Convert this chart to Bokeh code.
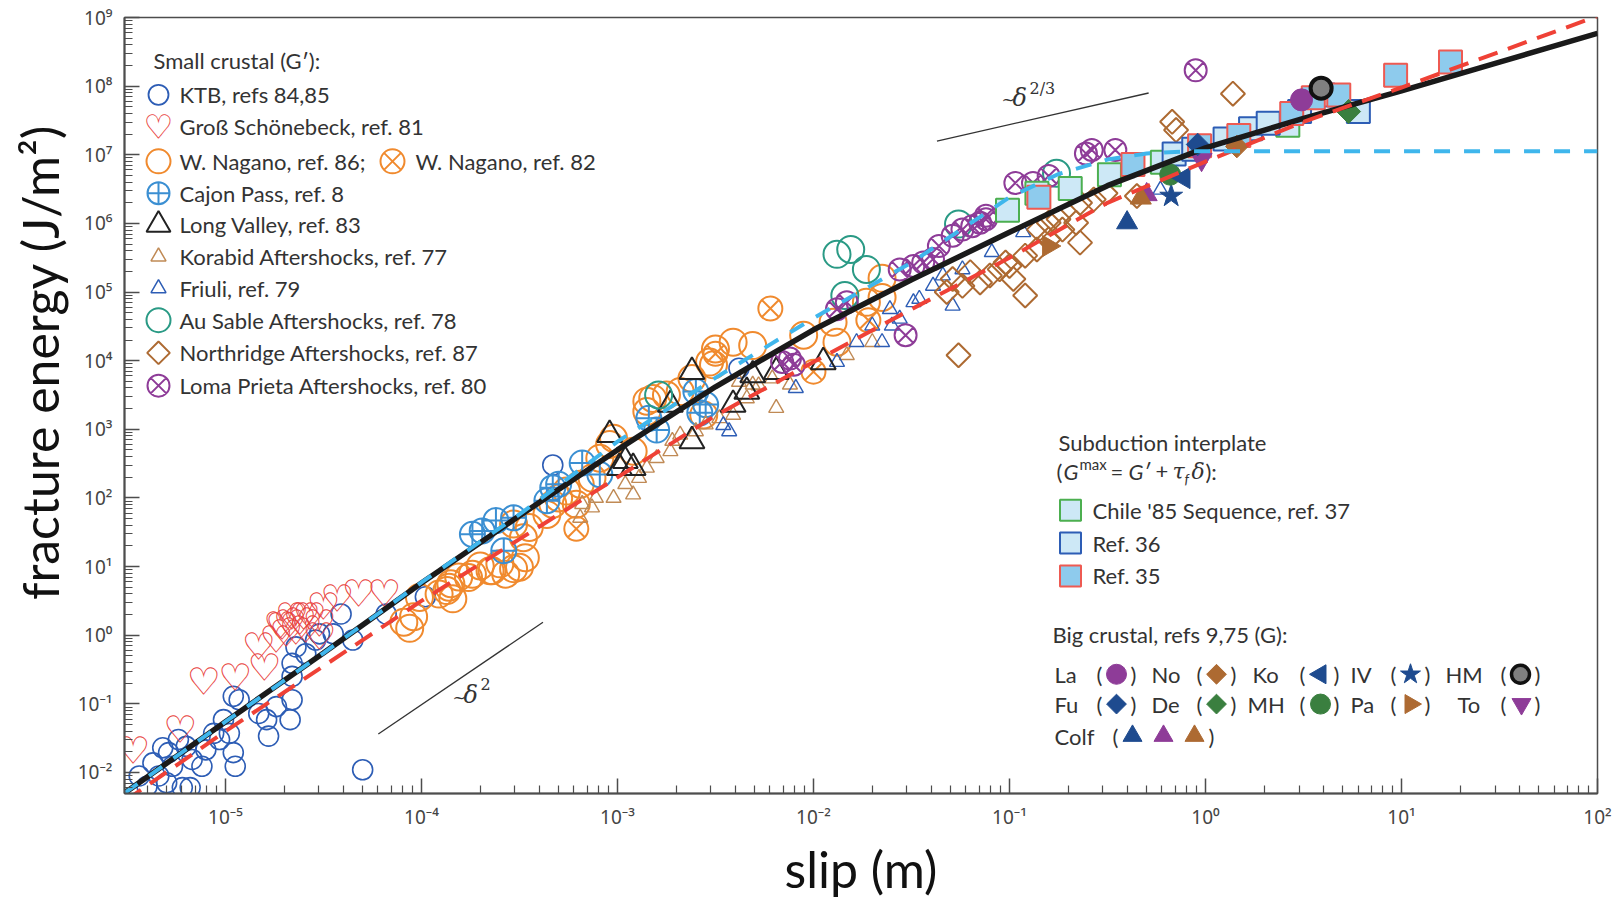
import numpy as np
from bokeh.plotting import figure
from bokeh.models import Range1d, FixedTicker, CustomJSTickFormatter, Title
from bokeh.core.properties import value
from bokeh.embed import file_html
from bokeh.resources import INLINE

# ---------------- data: log10(slip [m]) and log10(G [J/m^2]) ----------------
ktb_lx = [-5.32,-5.29,-5.24,-5.20,-5.27,-5.34,-5.30,-5.22,-5.18,-5.17,-5.12,-5.10,-5.06,-5.03,-4.98,-4.96,-4.95,-5.01,-4.96,-4.93,-4.83,-4.79,-4.78,-4.74,-4.67,-4.66,-4.66,-4.66,-4.64,-4.59,-4.54,-4.52,-4.45,-4.35,-4.41,-4.18,-3.98,-4.30,-5.37,-5.44,-5.40,-3.33,-2.38]
ktb_ly = [-1.64,-1.71,-1.52,-1.62,-1.91,-2.05,-2.15,-2.22,-2.22,-1.81,-1.91,-1.67,-1.43,-1.52,-1.43,-1.71,-1.91,-1.23,-0.89,-0.94,-1.14,-1.23,-1.47,-1.04,-1.23,-0.94,-0.60,-0.41,-0.17,-0.27,-0.07,0.02,0.02,-0.07,0.31,0.31,0.56,-1.96,-1.86,-2.05,-2.20,2.48,3.89]

gross_lx = [-5.47,-5.23,-5.11,-4.95,-4.80,-4.83,-4.74,-4.71,-4.67,-4.62,-4.60,-4.69,-4.64,-4.59,-4.52,-4.57,-4.52,-4.50,-4.43,-4.32,-4.19,-4.72,-4.66]
gross_ly = [-1.69,-1.38,-0.68,-0.63,-0.48,-0.17,-0.07,0.12,0.17,0.19,0.27,0.02,0.05,0.07,-0.02,0.27,0.17,0.41,0.53,0.60,0.60,0.14,0.27]

nag86_lx = [-4.09,-4.04,-4.06,-3.91,-3.86,-3.84,-3.81,-3.74,-3.64,-3.53,-4.01,-3.87,-3.85,-3.76,-3.70,-3.65,-3.60,-3.57,-3.50,-3.47,-3.48,-3.53,-3.45,-3.36,-3.33,-3.30,-3.26,-3.19,-3.21,-3.13,-3.09,-3.04,-3.02,-2.92,-2.85,-2.85,-2.82,-2.75,-2.68,-2.62,-2.56,-2.51,-2.50,-2.41,-2.31,-2.53,-2.05,-1.90,-1.88,-1.73,-1.65,-1.65]
nag86_ly = [0.19,0.27,0.10,0.60,0.70,0.53,0.85,0.89,0.94,0.97,0.55,0.65,0.75,0.84,1.01,0.94,1.04,0.89,0.99,1.13,1.42,1.62,1.57,1.76,1.91,2.00,2.10,2.20,1.91,2.29,2.58,2.78,2.87,2.68,3.26,3.41,3.45,3.50,3.55,3.74,3.21,3.94,4.17,4.27,4.22,3.98,4.37,4.56,4.27,4.85,5.20,4.92]

nag82_lx = [-2.22,-1.72,-2.00,-3.21,-2.50]
nag82_ly = [4.76,4.59,3.84,1.55,4.10]

cajon_lx = [-3.74,-3.69,-3.62,-3.53,-3.58,-3.36,-3.33,-3.30,-3.18,-3.09,-2.84,-2.80,-2.60,-2.58,-2.55]
cajon_ly = [1.47,1.52,1.67,1.71,1.23,1.96,2.15,2.20,2.51,2.34,3.16,2.99,3.55,3.24,3.36]

longv_lx = [-3.04,-2.96,-2.99,-2.92,-2.73,-2.62,-2.62,-2.41,-2.34,-2.31,-2.19,-1.95]
longv_ly = [2.92,2.54,2.44,2.44,3.36,2.83,3.84,3.36,3.55,3.79,3.84,3.98]

korab_lx = [-3.19,-3.13,-3.18,-3.11,-3.02,-2.92,-2.96,-2.89,-2.85,-2.80,-2.73,-2.72,-2.68,-2.60,-2.55,-2.48,-2.41,-2.34,-2.31,-2.21,-2.19,-2.12,-2.38,-2.28,-1.83,-1.70]
korab_ly = [1.71,1.86,1.91,2.00,2.00,2.05,2.20,2.29,2.44,2.58,2.68,2.83,2.92,2.97,3.07,3.16,3.21,3.45,3.65,3.74,3.31,3.65,3.69,3.64,4.08,4.27]

friuli_lx = [-2.46,-2.43,-2.09,-1.88,-1.78,-1.65,-1.60,-1.56,-1.49,-1.46,-1.39,-1.34,-1.29,-1.24,-1.09,-0.93,-1.70,-1.61,-0.40,-0.23]
friuli_ly = [3.06,2.97,3.60,3.98,4.27,4.27,4.51,4.61,4.85,4.90,5.09,5.24,4.80,5.33,5.58,5.87,4.51,4.75,6.73,6.49]

ausable_lx = [-1.88,-1.81,-1.73,-1.84,-1.26,-2.79,-0.76]
ausable_ly = [5.55,5.62,5.33,4.95,5.99,3.50,6.73]

north_lx = [-1.32,-1.29,-1.24,-1.20,-1.15,-1.10,-1.05,-1.00,-0.98,-0.92,-0.92,-0.85,-0.80,-0.75,-0.66,-1.26,-1.02,-0.86,-0.80,-0.73,-0.64,-0.64,-0.57,-0.51,-0.35,-0.15,-0.17,0.14]
north_ly = [5.00,5.19,5.09,5.29,5.14,5.24,5.33,5.38,5.19,4.95,5.53,5.91,5.77,6.06,6.01,4.08,5.43,5.62,6.01,5.91,5.72,6.30,6.35,6.44,6.40,7.36,7.48,7.89]

loma_lx = [-1.53,-1.56,-1.49,-1.44,-1.39,-1.36,-1.29,-1.24,-1.19,-1.15,-1.12,-0.97,-0.88,-0.80,-1.88,-2.12,-2.16,-1.83,-0.61,-0.46,-0.58,-0.05,-1.12,-2.10]
loma_ly = [4.37,5.33,5.38,5.43,5.48,5.67,5.82,5.91,5.96,6.01,6.06,6.59,6.59,6.69,4.75,4.03,3.98,4.85,7.02,7.07,7.07,8.23,6.11,3.94]

chile_lx = [-1.01,-0.86,-0.69,-0.49,-0.22,0.42]
chile_ly = [6.19,6.44,6.51,6.71,6.89,7.43]
ref36_lx = [-0.16,-0.06,0.10,0.23,0.32,0.48,0.60,0.78]
ref36_ly = [7.01,7.08,7.23,7.38,7.46,7.63,7.87,7.63]
ref35_lx = [-0.85,-0.37,-0.03,0.17,0.44,0.55,0.68,0.97,1.25]
ref35_ly = [6.38,6.86,7.13,7.28,7.60,7.83,7.87,8.16,8.35]

# big crustal events (log slip, log G)
la_l = (0.49, 7.80); hm_l = (0.59, 7.97); de_l = (0.73, 7.63); no_l = (0.16, 7.12)
fu_l = (-0.04, 7.15); to_l = (-0.02, 6.93); mh_l = (-0.18, 6.71); ko_l = (-0.11, 6.66)
iv_l = (-0.175, 6.40); pa_l = (-0.80, 5.67)
colf_lx = [-0.40, -0.30, -0.33]
colf_ly = [6.01, 6.42, 6.37]

# model curves
black_lx = [-5.515,-5.0,-4.5,-4.0,-3.5,-3.0,-2.5,-2.0,-1.5,-1.0,-0.5,0.0,0.5,1.0,1.5,2.0]
black_ly = [-2.30,-1.26,-0.26,0.76,1.74,2.70,3.62,4.45,5.18,5.87,6.55,7.10,7.53,7.93,8.35,8.77]
red_lx = [-5.515,-5.0,-4.5,-4.0,-3.5,-3.0,-2.5,-2.0,-1.5,-1.0,-0.5,0.0,0.5,1.0,1.5,2.0]
red_ly = [-2.42,-1.40,-0.45,0.50,1.40,2.30,3.20,3.98,4.75,5.50,6.30,6.90,7.48,7.98,8.50,9.02]
cyan_lx = [-5.515,-5.0,-4.5,-4.0,-3.5,-3.0,-2.5,-2.0,-1.5,-1.0,-0.75,-0.5,-0.3,-0.1,2.0]
cyan_ly = [-2.30,-1.26,-0.26,0.77,1.76,2.82,3.75,4.62,5.43,6.38,6.72,6.93,7.02,7.05,7.05]

# guide slopes
d2_lx = [-4.22, -3.38];  d2_ly = [-1.44, 0.19]
d23_lx = [-1.37, -0.29]; d23_ly = [7.20, 7.90]

x_major = [-5, -4, -3, -2, -1, 0, 1, 2]
y_major = [-2, -1, 0, 1, 2, 3, 4, 5, 6, 7, 8, 9]

# ---------------- layout ----------------
W, H = 1616, 901
FL, FR, FT, FB = 124, 1597, 17, 798
XLO, XHI = -5.515, 2.0
YLO, YHI = -2.306, 9.0

def px2x(px):
    return 10 ** (XLO + (px - FL) / (FR - FL) * (XHI - XLO))

def py2y(py):
    return 10 ** (YHI - (py - FT) / (FB - FT) * (YHI - YLO))

def e(a):
    return np.power(10.0, np.asarray(a, dtype=float))

p = figure(width=W, height=H, x_axis_type="log", y_axis_type="log",
           x_range=Range1d(10 ** XLO, 10 ** XHI), y_range=Range1d(10 ** YLO, 10 ** YHI),
           output_backend="svg", toolbar_location=None,
           min_border_left=FL, min_border_right=W - FR, min_border_top=FT, min_border_bottom=H - FB)
p.background_fill_color = "white"
p.border_fill_color = "white"
p.xgrid.visible = False
p.ygrid.visible = False
p.outline_line_color = "#4d4d4d"
p.outline_line_width = 1.5

fmt = CustomJSTickFormatter(code="""
const sup = {"-":"\u207b","0":"\u2070","1":"\u00b9","2":"\u00b2","3":"\u00b3","4":"\u2074","5":"\u2075","6":"\u2076","7":"\u2077","8":"\u2078","9":"\u2079"};
const k = Math.round(Math.log10(tick));
return "10" + String(k).split("").map(c => sup[c]).join("");
""")

p.xaxis.ticker = FixedTicker(ticks=[10.0 ** k for k in x_major],
                             minor_ticks=[m * 10.0 ** k for k in range(-6, 2) for m in range(2, 10)])
p.yaxis.ticker = FixedTicker(ticks=[10.0 ** k for k in y_major],
                             minor_ticks=[m * 10.0 ** k for k in range(-3, 9) for m in range(2, 10)])
for ax in (p.xaxis[0], p.yaxis[0]):
    ax.formatter = fmt
    ax.major_tick_in = 15
    ax.major_tick_out = 0
    ax.minor_tick_in = 8
    ax.minor_tick_out = 0
    ax.axis_line_color = "#4d4d4d"
    ax.axis_line_width = 2
    ax.major_tick_line_color = "#4d4d4d"
    ax.major_tick_line_width = 1.5
    ax.minor_tick_line_color = "#4d4d4d"
    ax.minor_tick_line_width = 1.2
    ax.major_label_text_font = "Noto Sans"
    ax.major_label_text_font_size = "19px"
    ax.major_label_text_color = "#444444"
p.xaxis.major_label_standoff = 10
p.yaxis.major_label_standoff = 12

# axis titles
p.xaxis.axis_label = "slip (m)"
p.xaxis.axis_label_text_font = "Lato"
p.xaxis.axis_label_text_font_size = "50px"
p.xaxis.axis_label_text_font_style = "normal"
p.xaxis.axis_label_text_color = "#111111"
p.xaxis.axis_label_standoff = 6

p.add_layout(Title(text="fracture energy (J/m²)", align="right", offset=107, standoff=10,
                   text_font="Lato", text_font_size="50px", text_font_style="normal",
                   text_color="#111111"), "left")

# colours
BLUE = "#2d5db5"; LBLUE = "#3b8fd2"; ORANGE = "#f08a2e"; RED = "#e8413c"
TEAL = "#2a9a85"; BROWN = "#ad6a32"; TAN = "#c08a55"; PURPLE = "#8e3c98"
NAVY = "#1e4b8f"; GREEN = "#3a7f3f"; SQFILL = "#cde8f6"; SQFILL2 = "#8ecbed"

HEART = "\u2661"
HEART_SIZE = "38px"

def hearts(xs, ys):
    p.text(x=xs, y=ys, text=[HEART] * len(xs), text_font=value("DejaVu Sans"),
           text_font_size=HEART_SIZE, text_font_style="bold", text_color=RED,
           text_align="center", text_baseline="middle")

# ---------------- data marks ----------------
p.scatter(e(ktb_lx), e(ktb_ly), marker="circle", size=20, line_color=BLUE, line_width=1.6, fill_color=None)
hearts(e(gross_lx), e(gross_ly))
p.scatter(e(nag86_lx), e(nag86_ly), marker="circle", size=27, line_color=ORANGE, line_width=2, fill_color=None)
p.scatter(e(nag82_lx), e(nag82_ly), marker="circle_x", size=24, line_color=ORANGE, line_width=2, fill_color=None)
p.scatter(e(cajon_lx), e(cajon_ly), marker="circle_cross", size=25, line_color=LBLUE, line_width=2, fill_color=None)
p.scatter(e(korab_lx), e(korab_ly), marker="triangle", size=15, line_color=TAN, line_width=1.4, fill_color=None)
p.scatter(e(friuli_lx), e(friuli_ly), marker="triangle", size=15, line_color=BLUE, line_width=1.4, fill_color=None)
p.scatter(e(longv_lx), e(longv_ly), marker="triangle", size=25, line_color="#222222", line_width=2, fill_color=None)
p.scatter(e(ausable_lx), e(ausable_ly), marker="circle", size=27, line_color=TEAL, line_width=2, fill_color=None)
p.scatter(e(north_lx), e(north_ly), marker="square", angle=np.pi / 4, size=17, line_color=BROWN, line_width=2, fill_color=None)
p.scatter(e(loma_lx), e(loma_ly), marker="circle_x", size=22, line_color=PURPLE, line_width=2, fill_color=None)

p.scatter(e(chile_lx), e(chile_ly), marker="square", size=23, line_color="#4caf50", line_width=2, fill_color=SQFILL)
p.scatter(e(ref36_lx), e(ref36_ly), marker="square", size=23, line_color=BLUE, line_width=2, fill_color=SQFILL)
p.scatter(e(ref35_lx), e(ref35_ly), marker="square", size=23, line_color="#ee5a52", line_width=2, fill_color=SQFILL2)

def big(pt, marker, color, size=21, angle=0.0, line_color=None, lw=1.0):
    p.scatter([10 ** pt[0]], [10 ** pt[1]], marker=marker, size=size, angle=angle,
              fill_color=color, line_color=line_color or color, line_width=lw)

big(pa_l, "triangle", BROWN, angle=-np.pi / 2)
p.scatter(e(colf_lx), e(colf_ly), marker="triangle", size=21, fill_color=[NAVY, PURPLE, BROWN], line_color=[NAVY, PURPLE, BROWN])
big(iv_l, "star", NAVY, size=24)
big(mh_l, "circle", GREEN)
big(ko_l, "triangle", NAVY, angle=np.pi / 2)
big(to_l, "inverted_triangle", PURPLE)
big(fu_l, "square", NAVY, size=16, angle=np.pi / 4)
big(no_l, "square", BROWN, size=16, angle=np.pi / 4)
big(la_l, "circle", PURPLE, size=22)
big(hm_l, "circle", "#808080", size=21, line_color="#111111", lw=4)
big(de_l, "square", GREEN, size=17, angle=np.pi / 4)

# ---------------- model curves ----------------
p.line(e(black_lx), e(black_ly), line_color="#1a1a1a", line_width=5.5)
p.line(e(red_lx), e(red_ly), line_color="#ef4136", line_width=4, line_dash="20 11")
p.line(e(cyan_lx), e(cyan_ly), line_color="#3fb6ec", line_width=4, line_dash="16 14")

p.line(e(d2_lx), e(d2_ly), line_color="#333333", line_width=1.3)
p.line(e(d23_lx), e(d23_ly), line_color="#333333", line_width=1.3)

LFS = "22px"

def txt(px, py, s, size=LFS, style="normal", align="left", font="Lato", color="#333333"):
    p.text(x=[px2x(px)], y=[py2y(py)], text=[s], text_font=value(font), text_font_size=size,
           text_font_style=style, text_align=align, text_baseline="middle", text_color=color)

# slope labels
txt(452, 701, "~", size="16px", font="DejaVu Serif")
txt(463, 699, "\u03b4", size="24px", style="italic", font="DejaVu Serif")
txt(480, 688, "2", size="16px", font="DejaVu Serif")
txt(1001, 100, "~", size="16px", font="DejaVu Serif")
txt(1012, 98, "\u03b4", size="24px", style="italic", font="DejaVu Serif")
txt(1029, 88, "2/3", size="16px", font="DejaVu Serif")

# ---------------- legend: small crustal ----------------
def lm(px, py, marker, size, color, fill=None, lw=2, angle=0.0, line_color=None):
    p.scatter([px2x(px)], [py2y(py)], marker=marker, size=size, angle=angle,
              line_color=line_color or color, fill_color=fill, line_width=lw)

txt(153, 60, "Small crustal (G\u2032):")
MX, TX = 158, 179
rows = [94.8, 126.8, 161.8, 193.8, 225.7, 257.7, 289.6, 321.6, 354.5, 387.5]
lm(MX, rows[0], "circle", 20, BLUE, lw=1.8)
txt(TX, rows[0], "KTB, refs 84,85")
p.text(x=[px2x(MX)], y=[py2y(rows[1])], text=[HEART], text_font=value("DejaVu Sans"), text_font_size="34px",
       text_font_style="bold", text_color=RED, text_align="center", text_baseline="middle")
txt(TX, rows[1], "Groß Schönebeck, ref. 81")
lm(MX, rows[2], "circle", 24, ORANGE)
txt(TX, rows[2], "W. Nagano, ref. 86;")
lm(392, rows[2], "circle_x", 24, ORANGE)
txt(415, rows[2], "W. Nagano, ref. 82")
lm(MX, rows[3], "circle_cross", 22, LBLUE)
txt(TX, rows[3], "Cajon Pass, ref. 8")
lm(MX, rows[4], "triangle", 24, "#222222")
txt(TX, rows[4], "Long Valley, ref. 83")
lm(MX, rows[5], "triangle", 15, TAN, lw=1.5)
txt(TX, rows[5], "Korabid Aftershocks, ref. 77")
lm(MX, rows[6], "triangle", 15, BLUE, lw=1.5)
txt(TX, rows[6], "Friuli, ref. 79")
lm(MX, rows[7], "circle", 24, TEAL)
txt(TX, rows[7], "Au Sable Aftershocks, ref. 78")
lm(MX, rows[8], "square", 16, BROWN, angle=np.pi / 4)
txt(TX, rows[8], "Northridge Aftershocks, ref. 87")
lm(MX, rows[9], "circle_x", 22, PURPLE)
txt(TX, rows[9], "Loma Prieta Aftershocks, ref. 80")

# ---------------- legend: subduction ----------------
txt(1058, 445, "Subduction interplate")
fy = 474
txt(1056, fy, "(")
txt(1063, fy, "G", style="italic")
txt(1079, fy - 8, "max", size="15px")
txt(1110, fy, "=")
txt(1128, fy, "G\u2032", style="italic")
txt(1155, fy, "+")
txt(1172, fy, "\u03c4", style="italic", font="DejaVu Serif")
txt(1184, fy + 7, "f", size="14px", style="italic")
txt(1191, fy, "\u03b4", style="italic", font="DejaVu Serif")
txt(1205, fy, "):")
lm(1070, 513, "square", 21, "#4caf50", fill=SQFILL)
txt(1092, 513, "Chile '85 Sequence, ref. 37")
lm(1070, 546, "square", 21, BLUE, fill=SQFILL)
txt(1092, 546, "Ref. 36")
lm(1070, 579, "square", 21, "#ee5a52", fill=SQFILL2)
txt(1092, 579, "Ref. 35")

# ---------------- legend: big crustal ----------------
txt(1052, 638, "Big crustal, refs 9,75 (G):")
r1, r2, r3 = 678, 708, 741

def paren(cx, py, half=17):
    txt(cx - half, py, "(", align="center")
    txt(cx + half, py, ")", align="center")

txt(1054, r1, "La"); paren(1116, r1); lm(1116, r1, "circle", 20, PURPLE, fill=PURPLE, lw=1)
txt(1151, r1, "No"); paren(1216, r1); lm(1216, r1, "square", 14, BROWN, fill=BROWN, lw=1, angle=np.pi / 4)
txt(1252, r1, "Ko"); paren(1319, r1); lm(1320, r1, "triangle", 19, NAVY, fill=NAVY, lw=1, angle=np.pi / 2)
txt(1350, r1, "IV"); paren(1410, r1); lm(1410, r1, "star", 21, NAVY, fill=NAVY, lw=1)
txt(1445, r1, "HM"); paren(1520, r1); lm(1520, r1, "circle", 18, "#808080", fill="#808080", lw=3.5, line_color="#111111")

txt(1054, r2, "Fu"); paren(1116, r2); lm(1116, r2, "square", 14, NAVY, fill=NAVY, lw=1, angle=np.pi / 4)
txt(1151, r2, "De"); paren(1216, r2); lm(1216, r2, "square", 14, GREEN, fill=GREEN, lw=1, angle=np.pi / 4)
txt(1247, r2, "MH"); paren(1319, r2); lm(1320, r2, "circle", 20, GREEN, fill=GREEN, lw=1)
txt(1350, r2, "Pa"); paren(1410, r2); lm(1410, r2, "triangle", 19, BROWN, fill=BROWN, lw=1, angle=-np.pi / 2)
txt(1457, r2, "To"); paren(1520, r2); lm(1521, r2, "inverted_triangle", 19, PURPLE, fill=PURPLE, lw=1)

txt(1054, r3, "Colf")
txt(1115, r3, "(", align="center")
lm(1132, r3 - 1, "triangle", 19, NAVY, fill=NAVY, lw=1)
lm(1163, r3 - 1, "triangle", 19, PURPLE, fill=PURPLE, lw=1)
lm(1194, r3 - 1, "triangle", 19, BROWN, fill=BROWN, lw=1)
txt(1211, r3, ")", align="center")

open("out.html", "w").write(file_html(p, INLINE))
